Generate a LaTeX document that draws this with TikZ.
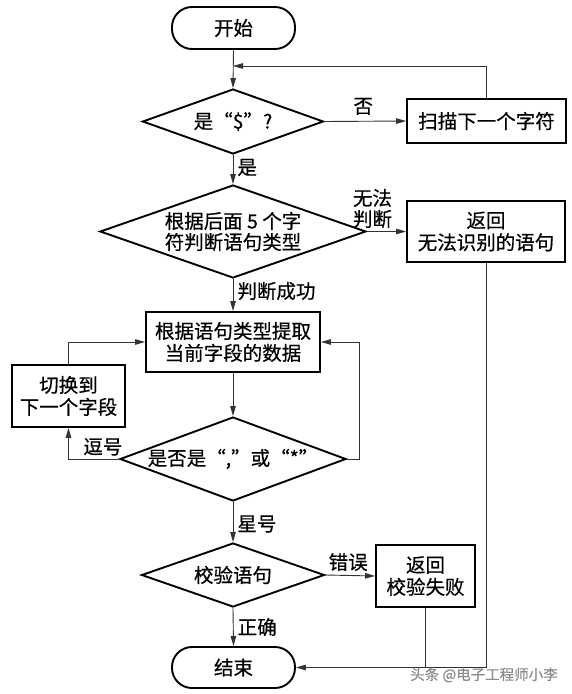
\documentclass[tikz,border=0pt]{standalone}
\usepackage{fontspec}
\setmainfont{Noto Sans CJK SC}[FakeBold=0.5,AutoFakeBold=0.5]
\usetikzlibrary{shapes.geometric,arrows.meta}
\begin{document}
\begin{tikzpicture}[x=1pt,y=-1pt,
  every node/.style={font=\fontsize{19.5}{22}\selectfont, inner sep=0pt},
  term/.style={draw, line width=1.9pt, rounded corners=20pt, minimum width=123pt, minimum height=42pt},
  procbox/.style={draw, line width=1.9pt, align=center, minimum width=#1},
  decide/.style={draw, diamond, line width=1.9pt, align=center},
  flow/.style={line width=0.9pt, draw=black!80, -{Triangle[length=10pt,width=5.5pt]}},
  plain/.style={line width=0.9pt, draw=black!80},
  lab/.style={font=\fontsize{19.5}{21}\selectfont, align=center}
]
\useasboundingbox (0,0) rectangle (571,694);
\node[term] (start) at (233.5,28) {开始};
\node[decide, minimum width=181pt, minimum height=65pt, aspect=2.8] (d1) at (233,121.5) {是“\$”?};
\node[procbox=159pt, minimum height=44pt] (scan) at (486.5,121) {扫描下一个字符};
\node[decide, minimum width=266pt, minimum height=93pt, aspect=2.86, font=\fontsize{19.5}{21}\selectfont] (d2) at (233,231.5) {根据后面 5 个字\\符判断语句类型};
\node[procbox=158pt, minimum height=61pt] (ret1) at (486,231.5) {返回\\无法识别的语句};
\node[procbox=174pt, minimum height=60pt] (proc) at (233,342) {根据语句类型提取\\当前字段的数据};
\node[procbox=113pt, minimum height=62pt] (switch) at (68.5,396) {切换到\\下一个字段};
\node[decide, minimum width=226pt, minimum height=84pt, aspect=2.7] (d3) at (233,459) {是否是“,”或“*”};
\node[decide, minimum width=183pt, minimum height=64pt, aspect=2.86] (verify) at (233,575) {校验语句};
\node[procbox=99pt, minimum height=62pt] (ret2) at (425.5,576) {返回\\校验失败};
\node[term, minimum height=41pt] (end) at (233.5,667.5) {结束};
\coordinate (j1) at (233,66);
\coordinate (rloop) at (359,459);
% connectors
\draw[flow] (start.south) -- (d1.north);
\draw[flow] (scan.north) |- (j1);
\draw[flow] (d1.east) -- node[lab, above=6pt, xshift=-2pt] (lno) {否} (scan.west);
\draw[flow] (d1.south) -- node[lab, right=4pt, yshift=2pt] (lyes) {是} (d2.north);
\draw[flow] (d2.east) -- node[lab, above=3pt, xshift=-14pt] (lunk) {无法\\判断} (ret1.west);
\draw[flow] (d2.south) -- node[lab, right=4pt, yshift=4pt] (lok) {判断成功} (proc.north);
\draw[flow] (proc.south) -- (d3.north);
\draw[flow] (d3.west) -| node[lab, pos=0.16, above=3pt] (lcomma) {逗号} (switch.south);
\draw[flow] (switch.north) |- (proc.west);
\draw[flow] (d3.east) -- (rloop) |- (proc.east);
\draw[flow] (d3.south) -- node[lab, right=4pt, yshift=-2pt] (lstar) {星号} (verify.north);
\draw[flow] (verify.east) -- node[lab, above=4pt, xshift=-2pt] (lerr) {错误} (ret2.west);
\draw[flow] (verify.south) -- node[lab, right=4pt] (lright) {正确} (end.north);
\draw[flow] (ret1.south) |- (end.east);
\draw[plain] (ret2.south) -- (ret2.south |- end.east);
\node[font=\fontsize{14.5}{16}\selectfont, text=black!45] (wm) at (484,675) {头条 @电子工程师小李};
\end{tikzpicture}
\end{document}
